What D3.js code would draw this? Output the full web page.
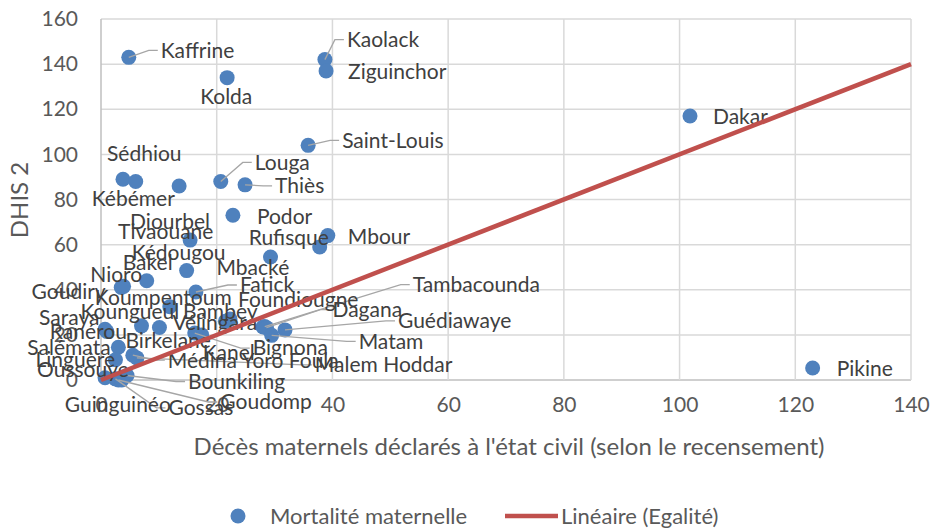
<!DOCTYPE html>
<html>
<head>
<meta charset="utf-8">
<script src="https://cdn.jsdelivr.net/npm/d3@7"></script>
<style>
  body { margin: 0; background: #fff; }
  text { font-family: Lato, "Liberation Sans", sans-serif; }
</style>
</head>
<body>
<div id="graph"></div>
<script>
// Données : décès maternels (état civil) vs DHIS 2, par département
let departements = ["Kaffrine", "Kolda", "Kaolack", "Ziguinchor", "Saint-Louis", "Dakar", "Pikine",
    "Sédhiou", "Kébémer", "Diourbel", "Louga", "Thiès", "Podor", "Tivaouane", "Rufisque", "Mbour",
    "Mbacké", "Kédougou", "Bakel", "Nioro", "Goudiry", "Fatick", "Koumpentoum", "Bambey", "Vélingara",
    "Kanel", "Bignona", "Foundiougne", "Tambacounda", "Dagana", "Matam", "Guédiawaye", "Koungueul",
    "Birkelane", "Saraya", "Ranérou", "Salémata", "Linguère", "Médina Yoro Foula", "Malem Hoddar",
    "Oussouye", "Bounkiling", "Goudomp", "Gossas", "Guinguinéo"];
let decesEtatCivil = [4.8, 21.8, 38.7, 38.9, 35.8, 101.8, 123,
    3.8, 6.0, 13.5, 20.7, 24.9, 22.8, 15.4, 37.8, 39.2,
    29.3, 14.8, 7.9, 3.5, 3.9, 16.4, 11.9, 22.3, 21.5,
    17.4, 16.2, 28, 28.3, 28.6, 29.5, 31.8, 10.1,
    7, 0.7, 1.0, 3, 2.5, 5.5, 6.2,
    0.7, 4.5, 3, 2.5, 3.6];
let dhis2 = [143, 134, 142, 137, 104, 117, 5.3,
    89, 88, 86, 88, 86.5, 73, 62, 59, 64,
    54.5, 48.5, 44, 41, 41.5, 39, 32.5, 27, 26,
    20, 20.8, 23.5, 23.7, 23.2, 19.8, 22.2, 23.3,
    24, 22.5, 21.5, 14.5, 9, 11, 9.8,
    1, 2, 0, 0.5, 0];
let egalite = [0, 140];
let xTicks = [0, 20, 40, 60, 80, 100, 120, 140];
let yTicks = [0, 20, 40, 60, 80, 100, 120, 140, 160];

// placement des étiquettes (décalage en px par rapport au point, ligne de repère)
let labelPos = {
    "Kaffrine": [32, -7, true], "Kolda": [-27, 19], "Kaolack": [22, -20, true], "Ziguinchor": [22, 1],
    "Saint-Louis": [34, -5, true], "Dakar": [23, 1], "Pikine": [24, 1], "Sédhiou": [-16, -26],
    "Kébémer": [-44, 17], "Diourbel": [-49, 36], "Louga": [34, -19, true], "Thiès": [30, 1, true],
    "Podor": [24, 1], "Tivaouane": [-72, -8], "Rufisque": [-71, -9], "Mbour": [20, 1],
    "Mbacké": [-54, 11], "Kédougou": [-55, -18], "Bakel": [-24, -18], "Nioro": [-31, -13],
    "Goudiry": [-92, 5], "Fatick": [44, -7, true], "Koumpentoum": [-75, -9], "Bambey": [-47, -7],
    "Vélingara": [-53, 1], "Kanel": [1, 18], "Bignona": [58, 15, true], "Foundiougne": [-25, -27],
    "Tambacounda": [148, -42, true], "Dagana": [66, -18, true], "Matam": [87, 6, true],
    "Guédiawaye": [113, -9, true], "Koungueul": [-79, -16], "Birkelane": [-16, 15],
    "Saraya": [-66, -12], "Ranérou": [-57, 0], "Salémata": [-91, 0], "Linguère": [-80, 0],
    "Médina Yoro Foula": [35, 5, true], "Malem Hoddar": [178, 7, true], "Oussouye": [-68, -8],
    "Bounkiling": [61, 6, true], "Goudomp": [102, 22, true], "Gossas": [53, 29, true],
    "Guinguinéo": [-57, 25]
};

let margin = { top: 19, right: 19, bottom: 149, left: 101 },
    width = 930 - margin.left - margin.right,
    height = 529 - margin.top - margin.bottom;

let svg = d3.select("#graph")
    .append("svg")
    .attr("width", 930)
    .attr("height", 529);

let g = svg.append("g")
    .attr("transform", "translate(" + margin.left + "," + margin.top + ")");

let x = d3.scaleLinear().domain([0, 140]).range([0, width]);
let y = d3.scaleLinear().domain([0, 160]).range([height, 0]);

// grille
g.append("g").selectAll("line").data(yTicks).enter().append("line")
    .attr("x1", 0).attr("x2", width)
    .attr("y1", d => y(d)).attr("y2", d => y(d))
    .attr("stroke", d => d === 0 ? "#bfbfbf" : "#d9d9d9")
    .attr("stroke-width", 1.5);
g.append("g").selectAll("line").data(xTicks).enter().append("line")
    .attr("x1", d => x(d)).attr("x2", d => x(d))
    .attr("y1", 0).attr("y2", height)
    .attr("stroke", d => d === 0 ? "#bfbfbf" : "#d9d9d9")
    .attr("stroke-width", 1.5);

// axes (texte seulement)
let axeX = g.append("g")
    .attr("transform", "translate(0," + height + ")")
    .call(d3.axisBottom(x).tickValues(xTicks).tickSize(0).tickPadding(17));
let axeY = g.append("g")
    .call(d3.axisLeft(y).tickValues(yTicks).tickSize(0).tickPadding(23));
[axeX, axeY].forEach(a => {
    a.select(".domain").remove();
    a.selectAll("text").attr("font-size", 21).attr("fill", "#595959")
        .style("font-family", "Lato, sans-serif");
});

// titres des axes
svg.append("text")
    .attr("x", margin.left + width / 2 + 3)
    .attr("y", 447)
    .attr("dy", "0.35em")
    .attr("text-anchor", "middle")
    .attr("font-size", 24)
    .attr("fill", "#595959")
    .text("Décès maternels déclarés à l'état civil (selon le recensement)");
svg.append("text")
    .attr("transform", "translate(20,200) rotate(-90)")
    .attr("dy", "0.35em")
    .attr("text-anchor", "middle")
    .attr("font-size", 24)
    .attr("fill", "#595959")
    .text("DHIS 2");

let points = departements.map((nom, i) => ({ nom: nom, x: decesEtatCivil[i], y: dhis2[i] }));

// points
g.append("g").selectAll("circle").data(points).enter().append("circle")
    .attr("cx", d => x(d.x))
    .attr("cy", d => y(d.y))
    .attr("r", 7.5)
    .attr("fill", "#4f81bd");

// étiquettes + lignes de repère
let leaders = g.append("g");
let labels = g.append("g").selectAll("text").data(points).enter().append("text")
    .attr("x", d => x(d.x) + labelPos[d.nom][0])
    .attr("y", d => y(d.y) + labelPos[d.nom][1])
    .attr("dy", "0.35em")
    .attr("font-size", 21)
    .attr("fill", "#404040")
    .text(d => d.nom);

labels.each(function (d) {
    if (!labelPos[d.nom][2]) return;
    let lx = x(d.x) + labelPos[d.nom][0],
        ly = y(d.y) + labelPos[d.nom][1];
    leaders.append("polyline")
        .attr("points", [[x(d.x), y(d.y)], [lx - 12, ly], [lx - 3, ly]].map(p => p.join(",")).join(" "))
        .attr("fill", "none")
        .attr("stroke", "#a6a6a6")
        .attr("stroke-width", 1.3);
});

// droite d'égalité
g.append("line")
    .attr("x1", x(egalite[0])).attr("y1", y(egalite[0]))
    .attr("x2", x(egalite[1])).attr("y2", y(egalite[1]))
    .attr("stroke", "#c0504d")
    .attr("stroke-width", 4.5);

// légende
let leg = svg.append("g").attr("transform", "translate(0,516)");
leg.append("circle").attr("cx", 238).attr("cy", 0).attr("r", 7.5).attr("fill", "#4f81bd");
leg.append("text").attr("x", 270).attr("dy", "0.35em").attr("font-size", 22).attr("fill", "#595959")
    .text("Mortalité maternelle");
leg.append("line").attr("x1", 505).attr("x2", 558).attr("y1", 0).attr("y2", 0)
    .attr("stroke", "#c0504d").attr("stroke-width", 4.5);
leg.append("text").attr("x", 561).attr("dy", "0.35em").attr("font-size", 22).attr("fill", "#595959")
    .text("Linéaire (Egalité)");
</script>
</body>
</html>
